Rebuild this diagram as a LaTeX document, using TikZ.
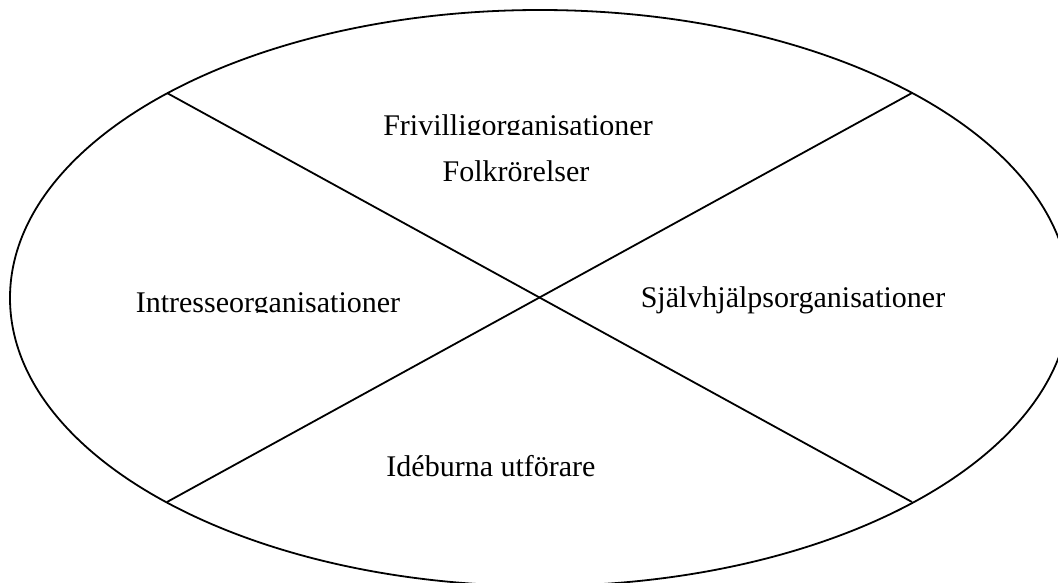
\documentclass[tikz,border=0pt]{standalone}
\usepackage{fontspec}
\setmainfont{Liberation Serif}
\begin{document}
\begin{tikzpicture}[x=1pt,y=-1pt,line width=1.8pt,
    sector/.style={inner sep=0pt,anchor=base,font=\fontsize{30}{36}\selectfont}]
    \clip (0,0) rectangle (1058,583);
    % ellipse
    \draw (540,298) ellipse [x radius=530pt, y radius=288pt];
    % crossing lines
    \coordinate (tl) at (167,93);
    \coordinate (tr) at (912,93);
    \coordinate (bl) at (167,502);
    \coordinate (br) at (912,502);
    \draw (tl) -- (br);
    \draw (bl) -- (tr);
    % top sector
    \begin{scope}
        \clip (0,0) rectangle (1058,135);
        \node[sector] (friv) at (518,136) {Frivilligorganisationer};
    \end{scope}
    \node[sector] (folk) at (516,182) {Folkrörelser};
    % left and right sectors
    \begin{scope}
        \clip (0,0) rectangle (1058,312);
        \node[sector] (intr) at (268,312) {Intresseorganisationer};
    \end{scope}
    \node[sector] (sjalv) at (793,307) {Självhjälpsorganisationer};
    % bottom sector
    \node[sector] (ide) at (491,476) {Idéburna utförare};
\end{tikzpicture}
\end{document}
